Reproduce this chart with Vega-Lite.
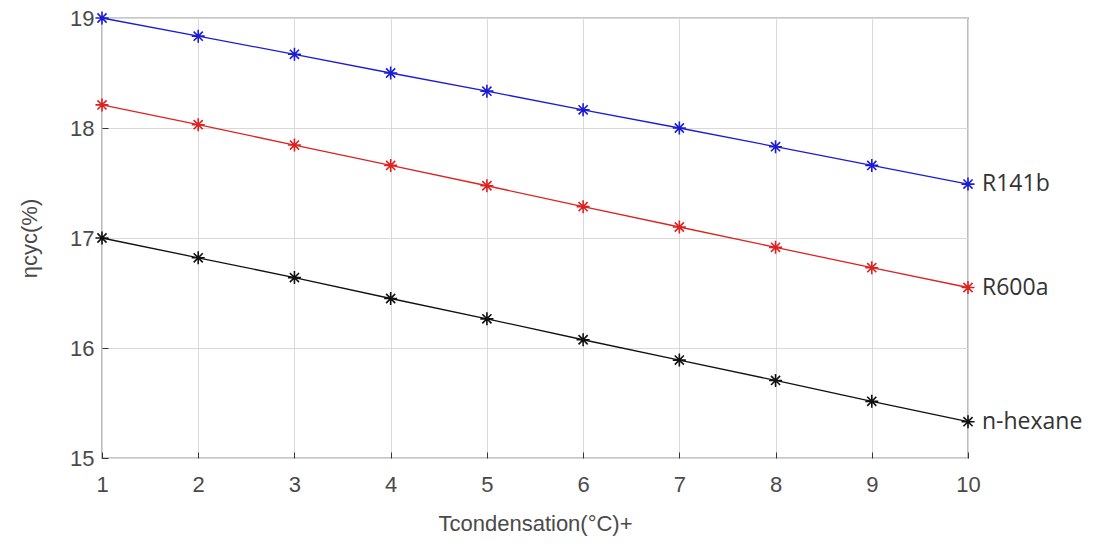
{
  "$schema": "https://vega.github.io/schema/vega-lite/v6.json",
  "autosize": {"type": "none"},
  "padding": {"left": 102, "top": 18, "right": 136, "bottom": 98},
  "width": 866,
  "height": 440,
  "background": "white",
  "config": {
    "view": {"stroke": "#222222", "strokeWidth": 1.2},
    "axis": {
      "labelFont": "Liberation Sans",
      "labelFontSize": 22,
      "labelColor": "#4a4a4a",
      "labelFlush": false,
      "titleFont": "Liberation Sans",
      "titleFontSize": 22,
      "titleColor": "#4a4a4a",
      "titleFontWeight": "normal",
      "gridColor": "#d9d9d9",
      "gridWidth": 1,
      "domain": false,
      "tickColor": "#333333",
      "tickSize": -6
    }
  },
  "data": {
    "values": [
      {"T": 1, "eta": 19.0, "fluid": "R141b"},
      {"T": 2, "eta": 18.835, "fluid": "R141b"},
      {"T": 3, "eta": 18.67, "fluid": "R141b"},
      {"T": 4, "eta": 18.5, "fluid": "R141b"},
      {"T": 5, "eta": 18.335, "fluid": "R141b"},
      {"T": 6, "eta": 18.165, "fluid": "R141b"},
      {"T": 7, "eta": 18.0, "fluid": "R141b"},
      {"T": 8, "eta": 17.83, "fluid": "R141b"},
      {"T": 9, "eta": 17.66, "fluid": "R141b"},
      {"T": 10, "eta": 17.49, "fluid": "R141b"},
      {"T": 1, "eta": 18.21, "fluid": "R600a"},
      {"T": 2, "eta": 18.03, "fluid": "R600a"},
      {"T": 3, "eta": 17.845, "fluid": "R600a"},
      {"T": 4, "eta": 17.66, "fluid": "R600a"},
      {"T": 5, "eta": 17.475, "fluid": "R600a"},
      {"T": 6, "eta": 17.285, "fluid": "R600a"},
      {"T": 7, "eta": 17.1, "fluid": "R600a"},
      {"T": 8, "eta": 16.915, "fluid": "R600a"},
      {"T": 9, "eta": 16.73, "fluid": "R600a"},
      {"T": 10, "eta": 16.55, "fluid": "R600a"},
      {"T": 1, "eta": 17.0, "fluid": "n-hexane"},
      {"T": 2, "eta": 16.82, "fluid": "n-hexane"},
      {"T": 3, "eta": 16.64, "fluid": "n-hexane"},
      {"T": 4, "eta": 16.45, "fluid": "n-hexane"},
      {"T": 5, "eta": 16.265, "fluid": "n-hexane"},
      {"T": 6, "eta": 16.075, "fluid": "n-hexane"},
      {"T": 7, "eta": 15.89, "fluid": "n-hexane"},
      {"T": 8, "eta": 15.705, "fluid": "n-hexane"},
      {"T": 9, "eta": 15.515, "fluid": "n-hexane"},
      {"T": 10, "eta": 15.33, "fluid": "n-hexane"}
    ]
  },
  "encoding": {
    "x": {
      "field": "T", "type": "quantitative",
      "scale": {"domain": [1, 10], "nice": false},
      "axis": {"values": [1,2,3,4,5,6,7,8,9,10], "title": "Tcondensation(°C)+", "labelPadding": 22, "titlePadding": 18}
    },
    "y": {
      "field": "eta", "type": "quantitative",
      "scale": {"domain": [15, 19], "nice": false, "zero": false},
      "axis": {"values": [15,16,17,18,19], "title": "ηcyc(%)", "labelPadding": 14, "titlePadding": 28}
    },
    "color": {
      "field": "fluid", "type": "nominal",
      "scale": {"domain": ["R141b", "R600a", "n-hexane"], "range": ["#1c1cd4", "#dd2222", "#111111"]},
      "legend": null
    },
    "detail": {"field": "fluid"}
  },
  "layer": [
    {"mark": {"type": "line", "strokeWidth": 1.3}},
    {"mark": {"type": "point", "filled": false, "strokeWidth": 1.6, "size": 170, "opacity": 1,
      "shape": "M-1,0L1,0M0,-1L0,1M-0.7,-0.7L0.7,0.7M-0.7,0.7L0.7,-0.7"}},
    {
      "transform": [{"filter": "datum.T == 10"}],
      "mark": {"type": "text", "align": "left", "baseline": "middle", "dx": 14, "font": "Open Sans", "fontSize": 23},
      "encoding": {"text": {"field": "fluid"}, "color": {"value": "#333333"}}
    }
  ]
}
